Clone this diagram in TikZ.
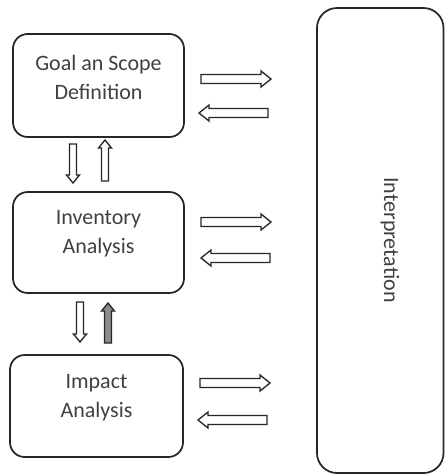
\documentclass[tikz,border=0pt]{standalone}
\usepackage{fontspec}
\setmainfont{Carlito}
\begin{document}
\begin{tikzpicture}[x=0.75pt,y=-0.75pt,
  stagebox/.style={draw=black!85, line width=1.3pt, rounded corners=11pt, inner sep=0pt},
  stagetext/.style={align=center, text=black!75, font=\fontsize{16.5}{21.75}\selectfont},
  arrline/.style={draw=black!85, line width=1pt, fill=white},
  harr/.pic={\path[arrline] (0,-4.5) -- ({#1-10},-4.5) -- ({#1-10},-8) -- (#1,0) -- ({#1-10},8) -- ({#1-10},4.5) -- (0,4.5) -- cycle;},
  varr/.pic={\path[arrline] (0,-3.5) -- ({#1-8},-3.5) -- ({#1-8},-6.5) -- (#1,0) -- ({#1-8},6.5) -- ({#1-8},3.5) -- (0,3.5) -- cycle;},
  varrfilled/.pic={\path[arrline, fill=black!45] (0,-3.5) -- ({#1-8},-3.5) -- ({#1-8},-6.5) -- (#1,0) -- ({#1-8},6.5) -- ({#1-8},3.5) -- (0,3.5) -- cycle;}
]
\useasboundingbox (0,0) rectangle (445,475);

% stage boxes
\node[stagebox, minimum width=128.25pt, minimum height=77.25pt] (goal) at (98.5,85.5) {};
\node[stagebox, minimum width=128.25pt, minimum height=75.75pt] (inv) at (98.5,242.5) {};
\node[stagebox, minimum width=129.75pt, minimum height=76.5pt] (imp) at (96.5,406) {};
\node[stagebox, rounded corners=15pt, minimum width=94.9pt, minimum height=348.75pt] (interp) at (380.25,240.5) {};

% texts
\node[stagetext] (goaltxt) at (98.5,77) {Goal an Scope\\Definition};
\node[stagetext] (invtxt) at (98.5,234) {Inventory\\Analysis};
\node[stagetext] (imptxt) at (96.5,397.5) {Impact\\Analysis};
\node[stagetext, rotate=-90] (interptxt) at (390,240) {Interpretation};

% horizontal arrows
\pic at (201,79) {harr=70};
\pic[rotate=180] at (268,113) {harr=69};
\pic at (201,222) {harr=70};
\pic[rotate=180] at (270,258) {harr=69};
\pic at (200,383) {harr=70};
\pic[rotate=180] at (267,420) {harr=69};

% vertical arrows
\pic[rotate=-90] at (73,144) {varr=39};
\pic[rotate=90] at (105,181) {varr=41};
\pic[rotate=-90] at (80,302) {varr=40};
\pic[rotate=90] at (108,343) {varrfilled=40};
\end{tikzpicture}
\end{document}
